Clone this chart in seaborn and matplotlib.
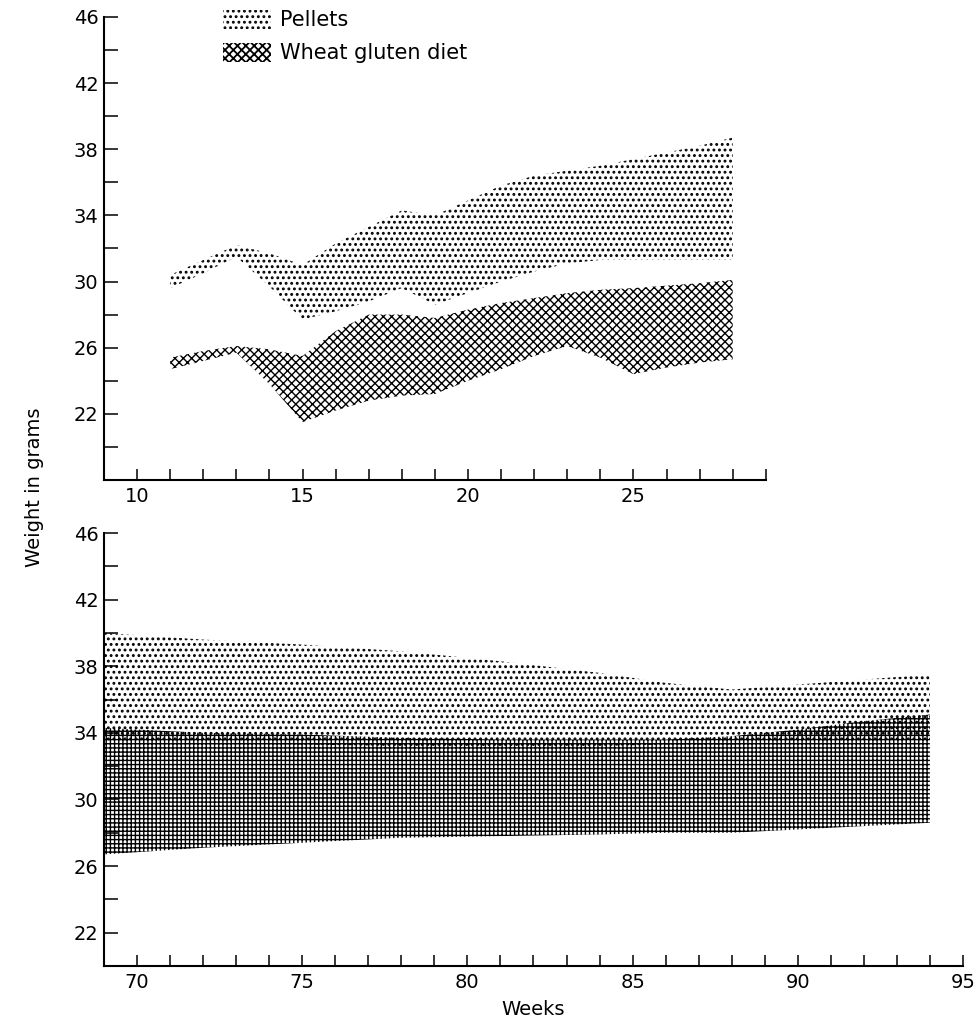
import matplotlib
matplotlib.use('Agg')
import numpy as np
import pandas as pd
import matplotlib.pyplot as plt
import seaborn as sns
from matplotlib.ticker import MultipleLocator, FixedLocator
from matplotlib.patches import Patch

# weeks 11-28 (young mice)
weeks_early = [11, 12, 13, 14, 15, 16, 17, 18, 19, 20, 21, 22, 23, 24, 25, 26, 27, 28]
pellets_hi_early = [30.4, 31.3, 32.2, 31.7, 31.0, 32.3, 33.3, 34.3, 34.0, 34.9, 35.8, 36.4, 36.7, 37.0, 37.4, 37.8, 38.2, 38.7]
pellets_lo_early = [29.6, 30.5, 31.5, 29.7, 27.7, 28.2, 28.8, 29.6, 28.6, 29.3, 30.0, 30.6, 31.1, 31.3, 31.3, 31.3, 31.3, 31.3]
wheat_hi_early = [25.4, 25.8, 26.1, 25.9, 25.5, 27.0, 28.0, 28.0, 27.8, 28.3, 28.7, 29.0, 29.3, 29.5, 29.6, 29.75, 29.9, 30.1]
wheat_lo_early = [24.7, 25.2, 25.7, 23.8, 21.5, 22.2, 22.8, 23.1, 23.2, 24.0, 24.7, 25.5, 26.1, 25.4, 24.4, 24.8, 25.1, 25.3]

# weeks 69-94 (old mice)
weeks_late = [69, 72, 75, 78, 81, 84, 86, 88, 90, 92, 94]
pellets_hi_late = [40.0, 39.6, 39.3, 38.9, 38.3, 37.6, 37.0, 36.6, 36.9, 37.2, 37.5]
pellets_lo_late = [33.4, 33.4, 33.3, 33.2, 33.2, 33.2, 33.3, 33.3, 33.4, 33.5, 33.6]
wheat_hi_late = [34.3, 34.0, 33.9, 33.7, 33.6, 33.6, 33.6, 33.8, 34.2, 34.7, 35.1]
wheat_lo_late = [26.7, 27.1, 27.4, 27.7, 27.8, 27.9, 28.0, 28.0, 28.2, 28.4, 28.6]

labels = ['Pellets', 'Wheat gluten diet']
ytick_labels = [22, 26, 30, 34, 38, 42, 46]

sns.set_style('ticks')
plt.rcParams['font.family'] = ['DejaVu Sans']
plt.rcParams['hatch.linewidth'] = 1.3
plt.rcParams['text.color'] = 'black'
plt.rcParams['axes.labelcolor'] = 'black'
plt.rcParams['xtick.color'] = 'black'
plt.rcParams['ytick.color'] = 'black'

fig = plt.figure(figsize=(9.76, 10.27), dpi=100)
ax1 = fig.add_axes([0.1066, 0.5326, 0.678, 0.451])
ax2 = fig.add_axes([0.1066, 0.0594, 0.880, 0.4216])

def band(ax, x, lo, hi, hatch, hlw):
    # hatch line width is picked up when the artist is made
    with plt.rc_context({'hatch.linewidth': hlw}):
        ax.fill_between(x, lo, hi, facecolor='none', edgecolor='black',
                        hatch=hatch, linewidth=0)

band(ax1, weeks_early, pellets_lo_early, pellets_hi_early, '...', 1.3)
band(ax1, weeks_early, wheat_lo_early, wheat_hi_early, 'xxxx', 1.0)
band(ax2, weeks_late, pellets_lo_late, pellets_hi_late, '...', 1.3)
band(ax2, weeks_late, wheat_lo_late, wheat_hi_late, '++++', 1.0)

ax1.set_xlim(9, 29)
ax1.set_ylim(18, 46)
ax2.set_xlim(69, 95)
ax2.set_ylim(20, 46)

for ax in (ax1, ax2):
    sns.despine(ax=ax)
    ax.xaxis.set_major_locator(MultipleLocator(5))
    ax.xaxis.set_minor_locator(MultipleLocator(1))
    ax.yaxis.set_major_locator(FixedLocator(ytick_labels))
    ax.yaxis.set_minor_locator(MultipleLocator(2))
    ax.tick_params(axis='y', which='both', direction='in', length=10, width=1.1,
                   labelsize=14, pad=4, colors='black')
    ax.tick_params(axis='x', which='both', direction='in', length=8, width=1.1,
                   labelsize=14, pad=5, colors='black')
    for s in ('left', 'bottom'):
        ax.spines[s].set_linewidth(1.5)
        ax.spines[s].set_color('black')
    ax.set_facecolor('white')

ax2.set_xlabel('Weeks', fontsize=14, labelpad=6, color='black')
fig.text(35 / 976, 1 - 487 / 1027, 'Weight in grams', rotation=90,
         ha='center', va='center', fontsize=14, color='black')

with plt.rc_context({'hatch.linewidth': 1.3}):
    h_pel = Patch(facecolor='none', edgecolor='black', hatch='...', linewidth=0)
with plt.rc_context({'hatch.linewidth': 1.0}):
    h_wheat = Patch(facecolor='none', edgecolor='black', hatch='xxxx', linewidth=0)
ax1.legend([h_pel, h_wheat], labels, loc='upper left', bbox_to_anchor=(223 / 976, 1 - 10 / 1027),
           bbox_transform=fig.transFigure, frameon=False, fontsize=15,
           handlelength=2.3, handleheight=1.0, handletextpad=0.45,
           labelspacing=0.6, borderpad=0, borderaxespad=0, labelcolor='black')

fig.savefig('out.png', dpi=100, facecolor='white')
